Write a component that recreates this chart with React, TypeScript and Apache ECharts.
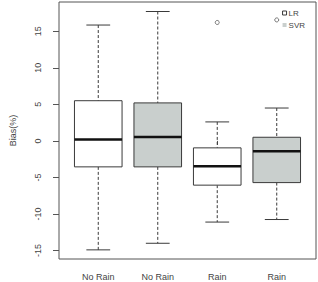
import React, { useEffect, useRef } from "react";
import * as echarts from "echarts";

// Group labels along the x axis (LR, SVR, LR, SVR)
const categories = ["No Rain", "No Rain", "Rain", "Rain"];
const yTicks = [-15, -10, -5, 0, 5, 10, 15];

// Box statistics: [position, lower whisker, Q1, median, Q3, upper whisker]
const lrBoxes = [
  [1, -14.9, -3.55, 0.2, 5.5, 15.85],
  [3, -11.1, -6.05, -3.45, -0.95, 2.6],
];
const svrBoxes = [
  [2, -14.0, -3.55, 0.55, 5.2, 17.7],
  [4, -10.75, -5.7, -1.4, 0.5, 4.5],
];
// Outliers: [position, value]
const lrOutliers = [[3, 16.2]];
const svrOutliers = [[4, 16.55]];

const LR_FILL = "#ffffff";
const SVR_FILL = "#c9cfcd";
const EDGE = "#3a3a3a";
const TEXT = "#444444";
const FONT = "Liberation Sans, Arial, sans-serif";

function boxRenderer(fill: string) {
  return (params: any, api: any) => {
    const x = api.value(0);
    const lo = api.coord([x, api.value(1)]);
    const q1 = api.coord([x, api.value(2)]);
    const med = api.coord([x, api.value(3)]);
    const q3 = api.coord([x, api.value(4)]);
    const hi = api.coord([x, api.value(5)]);
    const w = api.size([0.8, 0])[0];
    const cap = w / 2;
    const cx = lo[0];
    const dash = { stroke: EDGE, lineWidth: 1, lineDash: [3, 2] };
    const solid = { stroke: EDGE, lineWidth: 1 };
    return {
      type: "group",
      children: [
        { type: "line", shape: { x1: cx, y1: hi[1], x2: cx, y2: q3[1] }, style: dash },
        { type: "line", shape: { x1: cx, y1: q1[1], x2: cx, y2: lo[1] }, style: dash },
        { type: "line", shape: { x1: cx - cap / 2, y1: hi[1], x2: cx + cap / 2, y2: hi[1] }, style: solid },
        { type: "line", shape: { x1: cx - cap / 2, y1: lo[1], x2: cx + cap / 2, y2: lo[1] }, style: solid },
        {
          type: "rect",
          shape: { x: cx - w / 2, y: q3[1], width: w, height: q1[1] - q3[1] },
          style: { fill, stroke: EDGE, lineWidth: 1 },
        },
        {
          type: "line",
          shape: { x1: cx - w / 2, y1: med[1], x2: cx + w / 2, y2: med[1] },
          style: { stroke: "#111", lineWidth: 2.5 },
        },
      ],
    };
  };
}

export default function App() {
  const ref = useRef<HTMLDivElement>(null);
  useEffect(() => {
    document.body.style.margin = "0";
    const chart = echarts.init(ref.current!, undefined, { renderer: "svg" });
    chart.setOption({
      animation: false,
      backgroundColor: "#ffffff",
      textStyle: { fontFamily: FONT, color: TEXT },
      grid: {
        left: 42,
        top: 2,
        right: 2,
        bottom: 23,
        show: true,
        borderColor: "#555",
        borderWidth: 1,
        backgroundColor: "transparent",
      },
      legend: {
        orient: "vertical",
        right: 13,
        top: 9,
        padding: 0,
        itemGap: 4,
        itemWidth: 4,
        itemHeight: 4,
        textStyle: { fontSize: 8, color: TEXT, fontFamily: FONT, padding: [0, 0, 0, -3] },
        data: [
          { name: "LR", icon: "rect", itemStyle: { color: LR_FILL, borderColor: EDGE, borderWidth: 1 } },
          { name: "SVR", icon: "rect", itemStyle: { color: SVR_FILL, borderWidth: 0 } },
        ],
      },
      xAxis: {
        type: "value",
        min: 0.34,
        max: 4.66,
        splitLine: { show: false },
        axisLine: { show: false },
        axisTick: { show: true, length: 4, customValues: [1, 2, 3, 4], lineStyle: { color: "#555" } },
        axisLabel: {
          customValues: [1, 2, 3, 4],
          formatter: (v: number) => categories[Math.round(v) - 1],
          fontSize: 9,
          color: TEXT,
          margin: 13,
        },
      },
      yAxis: {
        type: "value",
        min: -16.15,
        max: 19.0,
        name: "Bias(%)",
        nameLocation: "middle",
        nameRotate: 90,
        nameGap: 42,
        nameTextStyle: { fontSize: 9, color: TEXT },
        splitLine: { show: false },
        axisLine: { show: false },
        axisTick: { show: true, length: 6, customValues: yTicks, lineStyle: { color: "#555" } },
        axisLabel: {
          customValues: yTicks,
          rotate: 90,
          fontSize: 9,
          color: TEXT,
          margin: 17,
        },
      },
      series: [
        {
          name: "LR",
          type: "custom",
          renderItem: boxRenderer(LR_FILL),
          encode: { x: 0, y: [1, 2, 3, 4, 5] },
          data: lrBoxes,
          itemStyle: { color: LR_FILL, borderColor: EDGE },
        },
        {
          name: "SVR",
          type: "custom",
          renderItem: boxRenderer(SVR_FILL),
          encode: { x: 0, y: [1, 2, 3, 4, 5] },
          data: svrBoxes,
          itemStyle: { color: SVR_FILL },
        },
        {
          name: "LR",
          type: "scatter",
          symbol: "circle",
          symbolSize: 4,
          data: lrOutliers,
          itemStyle: { color: "transparent", borderColor: "#555", borderWidth: 1 },
        },
        {
          name: "SVR",
          type: "scatter",
          symbol: "circle",
          symbolSize: 4,
          data: svrOutliers,
          itemStyle: { color: "transparent", borderColor: "#555", borderWidth: 1 },
        },
      ],
    });
    return () => chart.dispose();
  }, []);
  return <div ref={ref} style={{ width: 318, height: 282 }} />;
}
